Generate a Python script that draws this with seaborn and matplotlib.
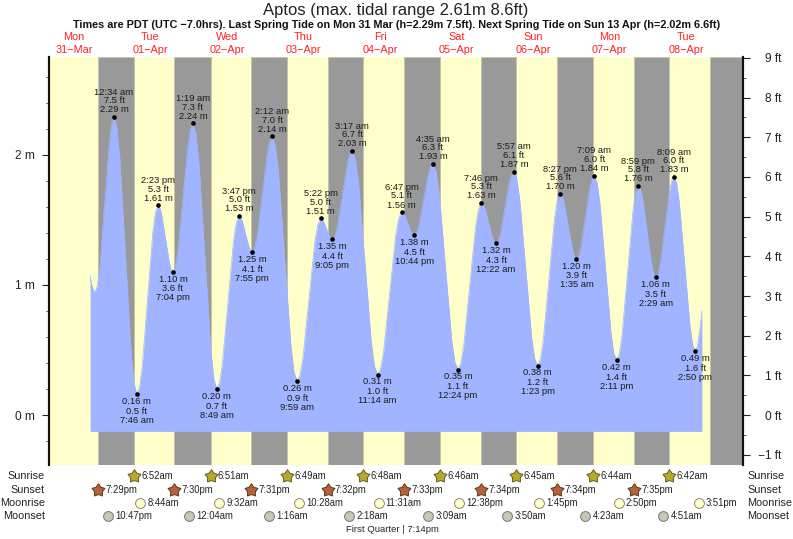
import pandas as pd
import seaborn as sns
import matplotlib
matplotlib.use('Agg')
import matplotlib.pyplot as plt
from matplotlib.path import Path
from matplotlib.ticker import FixedLocator

# --- values, x is hours since Mon 31-Mar 00:00 ---
curve_hours = [17.1, 17.6, 18.1, 18.65, 20.13, 21.61, 23.09, 24.57, 26.37, 28.17, 29.97,
               31.77, 33.42, 35.08, 36.73, 38.38, 39.55, 40.73, 41.9, 43.07, 44.63, 46.2, 47.76,
               49.32, 51.2, 53.07, 54.95, 56.82, 58.56, 60.3, 62.04, 63.78, 64.82, 65.85, 66.89,
               67.92, 69.49, 71.06, 72.63, 74.2, 76.15, 78.09, 80.04, 81.98, 83.83, 85.68, 87.52,
               89.37, 90.3, 91.23, 92.15, 93.08, 94.63, 96.18, 97.73, 99.28, 101.27, 103.26, 105.24,
               107.23, 109.12, 111.0, 112.89, 114.78, 115.77, 116.75, 117.74, 118.73, 120.19, 121.65, 123.12,
               124.58, 126.54, 128.49, 130.45, 132.4, 134.24, 136.08, 137.93, 139.77, 140.92, 142.07, 143.22,
               144.37, 145.77, 147.16, 148.56, 149.95, 151.81, 153.67, 155.52, 157.38, 159.15, 160.92, 162.68,
               164.45, 165.73, 167.02, 168.3, 169.58, 170.97, 172.37, 173.76, 175.15, 176.91, 178.67, 180.42,
               182.18, 183.88, 185.58, 187.28, 188.98, 190.36, 191.73, 193.11, 194.48, 195.9, 197.32, 198.73,
               200.15, 201.82, 203.49, 205.16, 206.83, 207.5, 208.2, 208.9]
curve_m = [1.07, 1.0, 0.96, 0.945, 1.14, 1.62, 2.09, 2.29, 1.98, 1.225, 0.471,
           0.16, 0.37, 0.885, 1.40, 1.61, 1.535, 1.355, 1.175, 1.10, 1.266, 1.67, 2.07,
           2.24, 1.94, 1.22, 0.50, 0.20, 0.394, 0.865, 1.336, 1.53, 1.489, 1.39, 1.291,
           1.25, 1.38, 1.695, 2.01, 2.14, 1.866, 1.20, 0.534, 0.26, 0.443, 0.885, 1.327,
           1.51, 1.487, 1.43, 1.373, 1.35, 1.449, 1.69, 1.931, 2.03, 1.779, 1.17, 0.561,
           0.31, 0.493, 0.935, 1.377, 1.56, 1.534, 1.47, 1.406, 1.38, 1.46, 1.655, 1.85,
           1.93, 1.70, 1.14, 0.58, 0.35, 0.537, 0.99, 1.443, 1.63, 1.585, 1.475, 1.365,
           1.32, 1.40, 1.595, 1.79, 1.87, 1.652, 1.125, 0.598, 0.38, 0.573, 1.04, 1.507,
           1.70, 1.627, 1.45, 1.273, 1.20, 1.293, 1.52, 1.747, 1.84, 1.633, 1.13, 0.627,
           0.42, 0.616, 1.09, 1.564, 1.76, 1.658, 1.41, 1.162, 1.06, 1.172, 1.445, 1.718,
           1.83, 1.634, 1.16, 0.686, 0.49, 0.53, 0.65, 0.80]

# extra readings close to each turn of the tide, where the curve bends most
shoulder_hours = [19.39, 23.83, 25.47, 30.87, 32.6, 37.55, 38.97, 42.48, 43.85, 48.54,
                  50.26, 55.88, 57.69, 62.91, 64.3, 67.4, 68.7, 73.42, 75.17, 81.01,
                  82.9, 88.45, 89.83, 92.62, 93.86, 98.5, 100.27, 106.24, 108.17, 113.84,
                  115.27, 118.24, 119.46, 123.85, 125.56, 131.42, 133.32, 138.85, 140.35, 143.8,
                  145.07, 149.25, 150.88, 156.45, 158.26, 163.57, 165.09, 168.94, 170.28, 174.45,
                  176.03, 181.3, 183.03, 188.13, 189.67, 193.79, 195.19, 199.44, 200.99, 205.99]
shoulder_m = [0.996, 2.239, 2.209, 0.241, 0.215, 1.555, 1.591, 1.119, 1.143, 2.197,
              2.162, 0.278, 0.251, 1.479, 1.519, 1.261, 1.284, 2.106, 2.069, 0.331,
              0.308, 1.462, 1.504, 1.356, 1.376, 2.004, 1.965, 0.375, 0.358, 1.512,
              1.553, 1.387, 1.401, 1.909, 1.87, 0.41, 0.399, 1.581, 1.618, 1.332,
              1.341, 1.849, 1.813, 0.437, 0.43, 1.65, 1.681, 1.219, 1.224, 1.816,
              1.786, 0.474, 0.471, 1.709, 1.733, 1.087, 1.089, 1.801, 1.779, 0.541]

# high and low waters, highs first then alternating
tide_hours = [24.57, 31.77, 38.38, 43.07, 49.32, 56.82, 63.78, 67.92, 74.2, 81.98,
              89.37, 93.08, 99.28, 107.23, 114.78, 118.73, 124.58, 132.4, 139.77, 144.37,
              149.95, 157.38, 164.45, 169.58, 175.15, 182.18, 188.98, 194.48, 200.15, 206.83]
tide_m = [2.29, 0.16, 1.61, 1.10, 2.24, 0.20, 1.53, 1.25, 2.14, 0.26,
          1.51, 1.35, 2.03, 0.31, 1.56, 1.38, 1.93, 0.35, 1.63, 1.32,
          1.87, 0.38, 1.70, 1.20, 1.84, 0.42, 1.76, 1.06, 1.83, 0.49]
tide_ft = ['7.5', '0.5', '5.3', '3.6', '7.3', '0.7', '5.0', '4.1', '7.0', '0.9',
           '5.0', '4.4', '6.7', '1.0', '5.1', '4.5', '6.3', '1.1', '5.3', '4.3',
           '6.1', '1.2', '5.6', '3.9', '6.0', '1.4', '5.8', '3.5', '6.0', '1.6']
tide_times = ['12:34 am', '7:46 am', '2:23 pm', '7:04 pm', '1:19 am', '8:49 am', '3:47 pm', '7:55 pm',
              '2:12 am', '9:59 am', '5:22 pm', '9:05 pm', '3:17 am', '11:14 am', '6:47 pm', '10:44 pm',
              '4:35 am', '12:24 pm', '7:46 pm', '12:22 am', '5:57 am', '1:23 pm', '8:27 pm', '1:35 am',
              '7:09 am', '2:11 pm', '8:59 pm', '2:29 am', '8:09 am', '2:50 pm']

day_names = ['Mon', 'Tue', 'Wed', 'Thu', 'Fri', 'Sat', 'Sun', 'Mon', 'Tue']
day_dates = ['31\u2212Mar', '01\u2212Apr', '02\u2212Apr', '03\u2212Apr', '04\u2212Apr',
             '05\u2212Apr', '06\u2212Apr', '07\u2212Apr', '08\u2212Apr']
day_noons = [12, 36, 60, 84, 108, 132, 156, 180, 204]

sunrise_hours = [30.87, 54.85, 78.82, 102.8, 126.77, 150.75, 174.73, 198.7]
sunrise_labels = ['6:52am', '6:51am', '6:49am', '6:48am', '6:46am', '6:45am', '6:44am', '6:42am']
sunset_hours = [19.48, 43.5, 67.52, 91.53, 115.55, 139.57, 163.57, 187.58]
sunset_labels = ['7:29pm', '7:30pm', '7:31pm', '7:32pm', '7:33pm', '7:34pm', '7:34pm', '7:35pm']
last_sunset = 211.6
moonrise_hours = [32.73, 57.53, 82.47, 107.52, 132.63, 157.75, 182.83, 207.85]
moonrise_labels = ['8:44am', '9:32am', '10:28am', '11:31am', '12:38pm', '1:45pm', '2:50pm', '3:51pm']
moonset_hours = [22.78, 48.07, 73.27, 98.3, 123.15, 147.83, 172.38, 196.85]
moonset_labels = ['10:47pm', '12:04am', '1:16am', '2:18am', '3:09am', '3:50am', '4:23am', '4:51am']

sns.set_theme(style='white')
plt.rcParams['font.family'] = ['Liberation Sans', 'DejaVu Sans']

W, H = 793, 539
fig = plt.figure(figsize=(W / 100, H / 100), dpi=100)
ax = fig.add_axes([49 / W, 1 - 465 / H, 694 / W, 408 / H])
ax_ev = fig.add_axes([49 / W, 0, 694 / W, 1 - 465 / H])

xlim = (4.2, 221.8)
ylim_m = (-0.383, 2.75)
ax.set_facecolor('#ffffcc')

# --- night bands ---
night_starts = sunset_hours + [last_sunset]
night_ends = sunrise_hours + [xlim[1]]
for start, end in zip(night_starts, night_ends):
    ax.axvspan(start, end, facecolor='#999999', edgecolor='#c4c4a4', lw=0.6, zorder=1)

# --- tide curve and extremes ---
curve = pd.DataFrame({'hours': curve_hours + shoulder_hours, 'm': curve_m + shoulder_m})
curve = curve.sort_values('hours')
ax.fill_between(curve['hours'], -0.125, curve['m'], color='#a0b4ff', lw=0, zorder=2)
sns.lineplot(data=curve, x='hours', y='m', color='#a0b4ff', lw=0.5, zorder=2, ax=ax)
tides = pd.DataFrame({'hours': tide_hours, 'm': tide_m})
sns.scatterplot(data=tides, x='hours', y='m', color='black', s=11, linewidth=0, zorder=3, ax=ax)

for i in range(len(tide_hours)):
    if i % 2 == 0:
        lines = [('%.2f m' % tide_m[i], 5.0), (tide_ft[i] + ' ft', 11.8), (tide_times[i], 17.8)]
    else:
        lines = [('%.2f m' % tide_m[i], -5.2), (tide_ft[i] + ' ft', -12.2), (tide_times[i], -18.8)]
    for txt, off in lines:
        ax.annotate(txt, (tide_hours[i], tide_m[i]), xytext=(0, off), textcoords='offset points',
                    ha='center', va='center', fontsize=6.75, color='#1a1a1a', zorder=4)

# --- axes, metres on the left and feet on the right ---
ax.set_xlim(xlim)
ax.set_ylim(ylim_m)
ax.set_xlabel('')
ax.set_ylabel('')
ax.set_xticks([])
ax.yaxis.set_major_locator(FixedLocator([0, 1, 2]))
ax.yaxis.set_minor_locator(FixedLocator([-0.2, 0.2, 0.4, 0.6, 0.8, 1.2, 1.4, 1.6, 1.8, 2.2, 2.4, 2.6]))
ax.set_yticklabels(['0 m', '1 m', '2 m'])
ax.tick_params(axis='y', which='major', left=True, length=5, width=0.8, color='#222222',
               labelsize=8.6, pad=5, labelcolor='#222222')
ax.tick_params(axis='y', which='minor', left=True, length=2.5, width=0.6, color='#444444')

ax_ft = ax.twinx()
ax_ft.set_ylim(ylim_m[0] * 3.2808, ylim_m[1] * 3.2808)
ft_ticks = [-1, 0, 1, 2, 3, 4, 5, 6, 7, 8, 9]
ft_labels = ['\u22121 ft', '0 ft', '1 ft', '2 ft', '3 ft', '4 ft', '5 ft', '6 ft', '7 ft', '8 ft', '9 ft']
ax_ft.yaxis.set_major_locator(FixedLocator(ft_ticks))
ax_ft.yaxis.set_minor_locator(FixedLocator([-0.5, 0.5, 1.5, 2.5, 3.5, 4.5, 5.5, 6.5, 7.5, 8.5]))
ax_ft.set_yticklabels(ft_labels, ha='right')
ax_ft.tick_params(axis='y', which='major', right=True, length=5, width=0.8, color='#222222',
                  labelsize=8.6, pad=22.5, labelcolor='#222222')
ax_ft.tick_params(axis='y', which='minor', right=True, length=2, width=0.6, color='#444444')

for a in [ax, ax_ft]:
    a.spines['top'].set_visible(False)
    a.spines['bottom'].set_visible(False)
    a.spines['left'].set_linewidth(1.5)
    a.spines['right'].set_linewidth(1.5)
    a.spines['left'].set_color('#111111')
    a.spines['right'].set_color('#111111')

# --- day labels above the plot ---
trans = ax.get_xaxis_transform()
for x, name, date in zip(day_noons, day_names, day_dates):
    ax.text(x, 1 + 20 / 408, name, transform=trans, ha='center', va='center', fontsize=7.8, color='#ff2020')
    ax.text(x, 1 + 7 / 408, date, transform=trans, ha='center', va='center', fontsize=7.8, color='#ff2020')

# --- sun and moon rows under the plot ---
ax_ev.axis('off')
fat_star = Path.unit_regular_star(5, innerCircle=0.6)
rows = [(sunrise_hours, sunrise_labels, fat_star, '#b5a92f', '#6b5a20', 95, 'Sunrise'),
        (sunset_hours, sunset_labels, fat_star, '#b5623c', '#5c3a1c', 95, 'Sunset'),
        (moonrise_hours, moonrise_labels, 'o', '#ffffcc', '#8a8a78', 50, 'Moonrise'),
        (moonset_hours, moonset_labels, 'o', '#c8c6b8', '#77776a', 50, 'Moonset')]
for k, (hours, labels, marker, fc, ec, size, side) in enumerate(rows):
    df = pd.DataFrame({'hours': hours, 'row': [k] * len(hours)})
    sns.scatterplot(data=df, x='hours', y='row', marker=marker, color=fc, edgecolor=ec,
                    linewidth=0.7, s=size, clip_on=False, ax=ax_ev)
    for h, lab in zip(hours, labels):
        ax_ev.annotate(lab, (h, k), xytext=(5.2, 0), textcoords='offset points', ha='left',
                       va='center', fontsize=6.85, color='#222222')
    ax_ev.annotate(side, (0, k), xycoords=('axes fraction', 'data'), xytext=(-3, 0),
                   textcoords='offset points', ha='right', va='center', fontsize=7.8, color='#222222')
    ax_ev.annotate(side, (1, k), xycoords=('axes fraction', 'data'), xytext=(3, 0),
                   textcoords='offset points', ha='left', va='center', fontsize=7.8, color='#222222')
ax_ev.set_xlim(xlim)
ax_ev.set_ylim(4.667, -0.815)
ax_ev.text(111.9, 4, 'First Quarter | 7:14pm', ha='center', va='center', fontsize=6.8, color='#222222')

# --- titles ---
fig.text(396 / W, 1 - 10 / H, 'Aptos (max. tidal range 2.61m 8.6ft)', ha='center', va='center',
         fontsize=12, color='#222222')
fig.text(396.5 / W, 1 - 25 / H,
         'Times are PDT (UTC \u22127.0hrs). Last Spring Tide on Mon 31 Mar (h=2.29m 7.5ft). '
         'Next Spring Tide on Sun 13 Apr (h=2.02m 6.6ft)',
         ha='center', va='center', fontsize=7.86, fontweight='bold', color='#111111')

plt.savefig('out.png', dpi=100)
plt.close()
